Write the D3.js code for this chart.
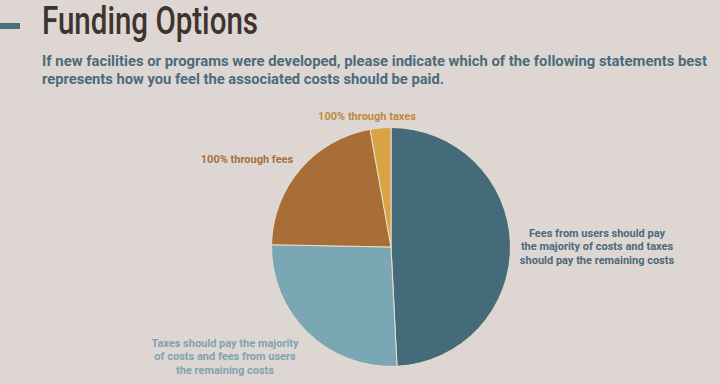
<!DOCTYPE html>
<html>
<head>
<meta charset="utf-8">
<script src="https://cdn.jsdelivr.net/npm/d3@7"></script>
<style>
  html, body { margin: 0; padding: 0; background: #ddd6d3; }
  svg { display: block; }
</style>
</head>
<body>
<svg id="chart" width="720" height="384"></svg>
<script>
const titleText = "Funding Options";
const subtitleLines = [
  "If new facilities or programs were developed, please indicate which of the following statements best",
  "represents how you feel the associated costs should be paid."
];
const categories = [
  "Fees from users should pay the majority of costs and taxes should pay the remaining costs",
  "Taxes should pay the majority of costs and fees from users the remaining costs",
  "100% through fees",
  "100% through taxes"
];
const values = [49.2, 26.1, 21.9, 2.8];
const labelLines = [
  ["Fees from users should pay", "the majority of costs and taxes", "should pay the remaining costs"],
  ["Taxes should pay the majority", "of costs and fees from users", "the remaining costs"],
  ["100% through fees"],
  ["100% through taxes"]
];
const sliceColors = ["#456b7b", "#7ba7b4", "#a96e38", "#d9a443"];
const labelColors = ["#4a6b7b", "#7fa4b2", "#a8703c", "#bf8a3e"];

const svg = d3.select("#chart");
const W = 720, H = 384;
svg.append("rect").attr("width", W).attr("height", H).attr("fill", "#ddd6d3");

// header accent bar
svg.append("rect").attr("x", 0).attr("y", 23).attr("width", 20).attr("height", 6).attr("fill", "#4a6f80");

svg.append("text")
  .attr("x", 42).attr("y", 34)
  .attr("font-family", "Roboto, 'DejaVu Sans', sans-serif")
  .attr("font-weight", 500)
  .attr("font-size", 38)
  .attr("fill", "#3e332d")
  .attr("textLength", 216).attr("lengthAdjust", "spacingAndGlyphs")
  .text(titleText);

const sub = svg.append("g")
  .attr("font-family", "Roboto, 'Open Sans', sans-serif")
  .attr("font-weight", "bold")
  .attr("font-size", 15)
  .attr("fill", "#4a6b7c");
sub.selectAll("text").data(subtitleLines).join("text")
  .attr("x", 42)
  .attr("y", (d, i) => 66 + i * 18)
  .attr("textLength", (d, i) => i === 0 ? 665 : 402)
  .attr("lengthAdjust", "spacingAndGlyphs")
  .text(d => d);

// pie
const cx = 391, cy = 247, R = 119.5;
const pie = d3.pie().sort(null).value(d => d);
const arcs = pie(values);
const arc = d3.arc().innerRadius(0).outerRadius(R);

const g = svg.append("g").attr("transform", `translate(${cx},${cy})`);
g.selectAll("path").data(arcs).join("path")
  .attr("d", arc)
  .attr("fill", (d, i) => sliceColors[i])
  .attr("stroke", "#eadfc9")
  .attr("stroke-width", 1);

// labels
const labelPos = [
  { x: 597, y: 237 },
  { x: 225, y: 347 },
  { x: 247, y: 163 },
  { x: 367, y: 120 }
];
const lg = svg.append("g")
  .attr("font-family", "Roboto, 'Open Sans', sans-serif")
  .attr("font-weight", "bold")
  .attr("font-size", 11)
  .attr("text-anchor", "middle");
labelLines.forEach((lines, i) => {
  const t = lg.append("text").attr("fill", labelColors[i]);
  lines.forEach((ln, j) => {
    t.append("tspan")
      .attr("x", labelPos[i].x)
      .attr("y", labelPos[i].y + j * 13.3)
      .text(ln);
  });
});
</script>
</body>
</html>
